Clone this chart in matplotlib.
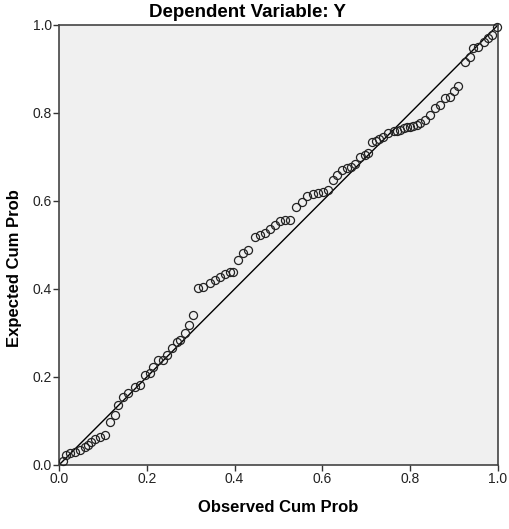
import numpy as np
import matplotlib
matplotlib.use("Agg")
import matplotlib.pyplot as plt

# Normal P-P plot of regression standardized residual
observado = [
    0.009, 0.016, 0.025, 0.036, 0.048, 0.059, 0.067, 0.074, 0.082, 0.093,
    0.105, 0.116, 0.128, 0.135, 0.146, 0.158, 0.173, 0.185, 0.196, 0.207,
    0.215, 0.226, 0.238, 0.245, 0.257, 0.268, 0.276, 0.287, 0.297, 0.306,
    0.317, 0.329, 0.344, 0.355, 0.367, 0.378, 0.390, 0.397, 0.408, 0.420,
    0.431, 0.446, 0.458, 0.469, 0.481, 0.492, 0.503, 0.515, 0.526, 0.541,
    0.553, 0.564, 0.579, 0.591, 0.602, 0.613, 0.625, 0.633, 0.644, 0.655,
    0.665, 0.675, 0.686, 0.697, 0.705, 0.712, 0.722, 0.730, 0.739, 0.750,
    0.762, 0.770, 0.777, 0.785, 0.792, 0.800, 0.807, 0.815, 0.822, 0.834,
    0.845, 0.856, 0.868, 0.879, 0.891, 0.900, 0.910, 0.925, 0.936, 0.944,
    0.955, 0.967, 0.978, 0.986, 0.997,
]
esperado = [
    0.010, 0.022, 0.027, 0.030, 0.034, 0.042, 0.045, 0.053, 0.058, 0.064,
    0.068, 0.098, 0.114, 0.136, 0.155, 0.163, 0.178, 0.182, 0.205, 0.210,
    0.222, 0.239, 0.239, 0.250, 0.265, 0.280, 0.284, 0.300, 0.318, 0.341,
    0.402, 0.405, 0.413, 0.420, 0.427, 0.434, 0.439, 0.439, 0.466, 0.481,
    0.489, 0.519, 0.523, 0.527, 0.536, 0.545, 0.555, 0.557, 0.557, 0.587,
    0.598, 0.611, 0.617, 0.619, 0.621, 0.625, 0.648, 0.660, 0.670, 0.674,
    0.678, 0.683, 0.700, 0.705, 0.710, 0.735, 0.737, 0.741, 0.746, 0.754,
    0.758, 0.760, 0.761, 0.765, 0.769, 0.769, 0.770, 0.773, 0.777, 0.784,
    0.795, 0.811, 0.818, 0.833, 0.837, 0.850, 0.862, 0.917, 0.928, 0.947,
    0.951, 0.962, 0.970, 0.977, 0.996,
]
ticks = [0.0, 0.2, 0.4, 0.6, 0.8, 1.0]
rotulos = ["0.0", "0.2", "0.4", "0.6", "0.8", "1.0"]

plt.rcParams["font.family"] = ["Liberation Sans", "DejaVu Sans"]

fig = plt.figure(figsize=(5.10, 5.29), dpi=100)
ax = fig.add_axes([59 / 510, 1 - 465 / 529, 439 / 510, 440 / 529])
ax.set_facecolor("#f0f0f0")

# linha de referência (diagonal)
ax.plot([0, 1], [0, 1], color="black", lw=1.0, zorder=2)
ax.plot(observado, esperado, "o", ms=5.8, mfc="none", mec="#222222",
        mew=0.9, zorder=3, clip_on=False)

ax.set_xlim(0, 1)
ax.set_ylim(0, 1)
ax.set_xticks(ticks)
ax.set_xticklabels(rotulos)
ax.set_yticks(ticks)
ax.set_yticklabels(rotulos)
ax.tick_params(direction="out", length=4, width=1, color="#333333",
               labelsize=10, labelcolor="#222222", pad=1)
for lado in ax.spines.values():
    lado.set_color("#444444")
    lado.set_linewidth(1.2)

ax.set_xlabel("Observed Cum Prob", fontsize=12, fontweight="bold")
ax.xaxis.set_label_coords(0.5, -(508 - 465) / 440)
ax.xaxis.label.set_va("center")
ax.set_ylabel("Expected Cum Prob", fontsize=12, fontweight="bold")
ax.yaxis.set_label_coords(-(59 - 15) / 439, (465 - 268) / 440)
ax.yaxis.label.set_va("center")

fig.text(248 / 510, 1 - 17 / 529, "Dependent Variable: Y", ha="center",
         va="baseline", fontsize=13.5, fontweight="bold")

plt.savefig("out.png", dpi=100)
